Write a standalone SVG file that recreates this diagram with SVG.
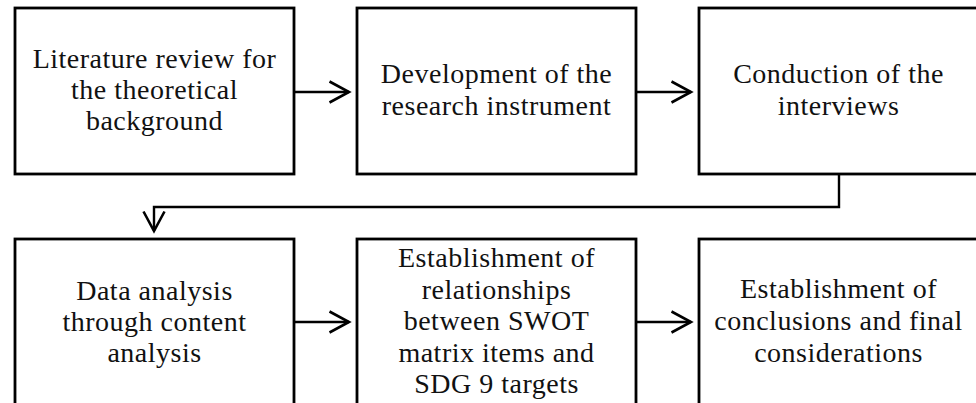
<svg xmlns="http://www.w3.org/2000/svg" width="976" height="403" viewBox="0 0 976 403">
<style>
.box{fill:#fff;stroke:#000;stroke-width:2.8}
.t{font-family:"Liberation Serif","DejaVu Serif",serif;font-size:28px;letter-spacing:0.5px;fill:#111;text-anchor:middle}
.c{fill:none;stroke:#000;stroke-width:2.4}
</style>
<defs>
<marker id="ah" viewBox="0 0 24 24" refX="21" refY="12" markerWidth="24" markerHeight="24" markerUnits="userSpaceOnUse" orient="auto">
<path d="M1.5,1.5 L21,12 L1.5,22.5" fill="none" stroke="#000" stroke-width="2.6"/>
</marker>
</defs>
<rect width="976" height="403" fill="#fff"/>
<g id="n1"><rect class="box" x="15" y="8" width="279" height="166"/>
<text class="t"><tspan x="154.5" y="68">Literature review for</tspan><tspan x="154.5" y="99">the theoretical</tspan><tspan x="154.5" y="130">background</tspan></text></g>
<g id="n2"><rect class="box" x="357" y="8" width="279" height="166"/>
<text class="t"><tspan x="496.5" y="83">Development of the</tspan><tspan x="496.5" y="115">research instrument</tspan></text></g>
<g id="n3"><rect class="box" x="699" y="8" width="279" height="166"/>
<text class="t"><tspan x="838.5" y="83">Conduction of the</tspan><tspan x="838.5" y="115">interviews</tspan></text></g>
<g id="n4"><rect class="box" x="15" y="239" width="279" height="166"/>
<text class="t"><tspan x="154.5" y="300">Data analysis</tspan><tspan x="154.5" y="331">through content</tspan><tspan x="154.5" y="362">analysis</tspan></text></g>
<g id="n5"><rect class="box" x="357" y="239" width="279" height="166"/>
<text class="t"><tspan x="496.5" y="267">Establishment of</tspan><tspan x="496.5" y="298.5">relationships</tspan><tspan x="496.5" y="330">between SWOT</tspan><tspan x="496.5" y="361.5">matrix items and</tspan><tspan x="496.5" y="393">SDG 9 targets</tspan></text></g>
<g id="n6"><rect class="box" x="699" y="239" width="279" height="166"/>
<text class="t"><tspan x="838.5" y="298">Establishment of</tspan><tspan x="838.5" y="330">conclusions and final</tspan><tspan x="838.5" y="362">considerations</tspan></text></g>
<g id="connectors">
<path class="c" d="M294,92 H349" marker-end="url(#ah)"/>
<path class="c" d="M636,92 H691" marker-end="url(#ah)"/>
<path class="c" d="M839,174 V207 H154 V231" marker-end="url(#ah)"/>
<path class="c" d="M294,322 H349" marker-end="url(#ah)"/>
<path class="c" d="M636,322 H691" marker-end="url(#ah)"/>
</g>
</svg>
